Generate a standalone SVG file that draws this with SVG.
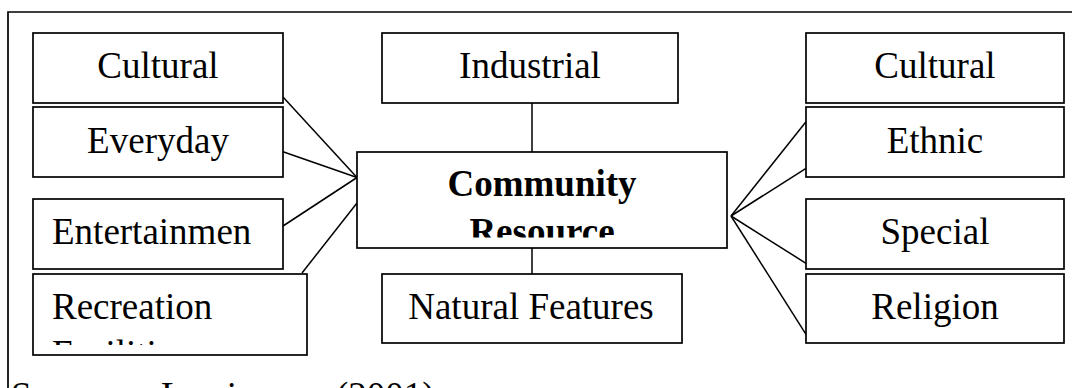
<svg xmlns="http://www.w3.org/2000/svg" width="1072" height="388" viewBox="0 0 1072 388">
  <style>
    .box { fill: #ffffff; stroke: #000000; stroke-width: 1.7; }
    .frame { fill: none; stroke: #000000; stroke-width: 1.7; }
    .conn { stroke: #000000; stroke-width: 1.5; fill: none; }
    .t { font-family: "Liberation Serif", "Times New Roman", serif; font-size: 37px; fill: #000000; }
    .c { text-anchor: middle; }
    .b { font-weight: bold; }
  </style>
  <defs>
    <clipPath id="clipRec"><rect x="33" y="274" width="274" height="71"/></clipPath>
    <clipPath id="clipCom"><rect x="357" y="152" width="370" height="85.5"/></clipPath>
  </defs>
  <rect width="1072" height="388" fill="#ffffff"/>
  <path class="frame" d="M8,388 L8,12 L1072,12"/>
  <g id="connectors">
    <line class="conn" x1="283" y1="97" x2="357" y2="177.5"/>
    <line class="conn" x1="283" y1="151.7" x2="357" y2="177.5"/>
    <line class="conn" x1="283" y1="226" x2="357" y2="177.5"/>
    <line class="conn" x1="302" y1="273" x2="357" y2="203"/>
    <line class="conn" x1="532" y1="103" x2="532" y2="152"/>
    <line class="conn" x1="532" y1="248" x2="532" y2="274"/>
    <line class="conn" x1="731" y1="216" x2="806" y2="121.7"/>
    <line class="conn" x1="731" y1="216" x2="806" y2="168.3"/>
    <line class="conn" x1="731" y1="216" x2="806" y2="263.3"/>
    <line class="conn" x1="731" y1="216" x2="806" y2="334.3"/>
  </g>
  <g id="left-cultural">
    <rect class="box" x="33" y="33" width="250" height="70"/>
    <text class="t c" x="158" y="78">Cultural</text>
  </g>
  <g id="everyday">
    <rect class="box" x="33" y="107" width="250" height="70"/>
    <text class="t c" x="158" y="152.5">Everyday</text>
  </g>
  <g id="entertainment">
    <rect class="box" x="33" y="199" width="250" height="70"/>
    <text class="t" x="52" y="243.5">Entertainmen</text>
  </g>
  <g id="recreation">
    <rect class="box" x="33" y="274" width="274" height="81"/>
    <g clip-path="url(#clipRec)">
      <text class="t" x="52" y="318.5">Recreation</text>
      <text class="t" x="52" y="366">Facilities</text>
    </g>
  </g>
  <g id="industrial">
    <rect class="box" x="382" y="33" width="296" height="70"/>
    <text class="t c" x="530" y="78">Industrial</text>
  </g>
  <g id="community-resource">
    <rect class="box" x="357" y="152" width="370" height="96"/>
    <g clip-path="url(#clipCom)">
      <text class="t c b" x="542" y="196">Community</text>
      <text class="t c b" x="542" y="243.5">Resource</text>
    </g>
  </g>
  <g id="natural-features">
    <rect class="box" x="382" y="274" width="300" height="69"/>
    <text class="t c" x="531" y="318.5">Natural Features</text>
  </g>
  <g id="right-cultural">
    <rect class="box" x="806" y="33" width="258" height="70"/>
    <text class="t c" x="935" y="78">Cultural</text>
  </g>
  <g id="ethnic">
    <rect class="box" x="806" y="107" width="258" height="70"/>
    <text class="t c" x="935" y="152.5">Ethnic</text>
  </g>
  <g id="special">
    <rect class="box" x="806" y="199" width="258" height="70"/>
    <text class="t c" x="935" y="243.5">Special</text>
  </g>
  <g id="religion">
    <rect class="box" x="806" y="274" width="258" height="69"/>
    <text class="t c" x="935" y="318.5">Religion</text>
  </g>
  <g id="caption">
    <text class="t" y="407.5"><tspan x="11">Sources:</tspan><tspan x="161">Lewis</tspan><tspan x="336">(2001)</tspan></text>
  </g>
</svg>
